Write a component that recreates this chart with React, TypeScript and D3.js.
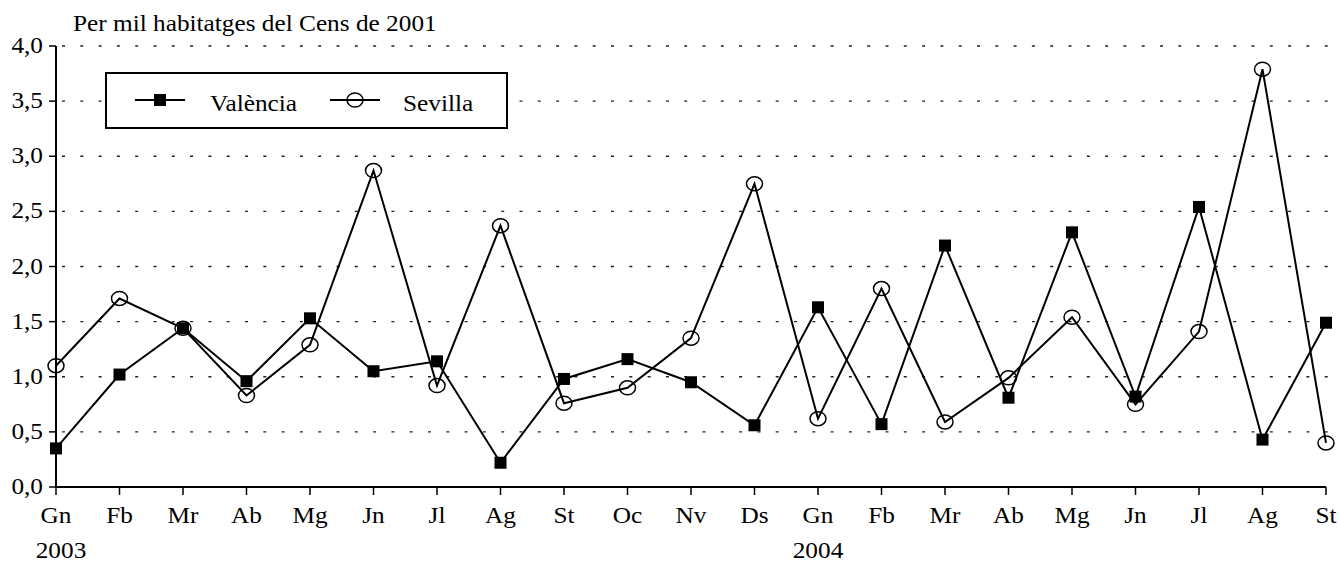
import React from "react";
import * as d3 from "d3";

const months = ["Gn","Fb","Mr","Ab","Mg","Jn","Jl","Ag","St","Oc","Nv","Ds","Gn","Fb","Mr","Ab","Mg","Jn","Jl","Ag","St"];
const years = [{ label: "2003", index: 0 }, { label: "2004", index: 12 }];
const valencia = [0.35,1.02,1.44,0.96,1.53,1.05,1.14,0.22,0.98,1.16,0.95,0.56,1.63,0.57,2.19,0.81,2.31,0.82,2.54,0.43,1.49];
const sevilla = [1.10,1.71,1.44,0.83,1.29,2.87,0.92,2.37,0.76,0.90,1.35,2.75,0.62,1.80,0.59,0.99,1.54,0.75,1.41,3.79,0.40];
const yTicks = [0,0.5,1,1.5,2,2.5,3,3.5,4];
const yTitle = "Per mil habitatges del Cens de 2001";
const seriesNames = ["València","Sevilla"];

const W = 1339, H = 563;
const FONT = "'Liberation Serif', 'Times New Roman', serif";
const FS = 23;
const SX = 1.1;

function T({ x, y, anchor = "start", children }: any) {
  return (
    <text transform={`translate(${x},${y}) scale(${SX},1)`} textAnchor={anchor}
      fontFamily={FONT} fontSize={FS} fill="#000">{children}</text>
  );
}

export default function App() {
  const x = d3.scaleLinear().domain([0, months.length - 1]).range([56, 1326]);
  const y = d3.scaleLinear().domain([0, 4]).range([487, 46]);
  const line = d3.line<number>().x((_, i) => x(i)).y(d => y(d));
  const fmt = (v: number) => v.toFixed(1).replace(".", ",");

  return (
    <svg width={W} height={H} style={{ position: "absolute", left: 0, top: 0, background: "#fff" }}>
      <rect width={W} height={H} fill="#fff" />
      {yTicks.filter(t => t > 0).map(t => (
        <line key={t} x1={62} x2={1330} y1={y(t)} y2={y(t)} stroke="#222" strokeWidth={1.3} strokeDasharray="3,15.3" />
      ))}
      <line x1={56} x2={56} y1={y(4)} y2={y(0) + 1} stroke="#000" strokeWidth={2} />
      {yTicks.map(t => (
        <g key={t}>
          <line x1={49} x2={56} y1={y(t)} y2={y(t)} stroke="#000" strokeWidth={1.5} />
          <T x={43} y={y(t) + 7} anchor="end">{fmt(t)}</T>
        </g>
      ))}
      <line x1={55} x2={x(months.length - 1)} y1={y(0)} y2={y(0)} stroke="#000" strokeWidth={2} />
      {months.map((m, i) => (
        <g key={i}>
          <line x1={x(i)} x2={x(i)} y1={y(0)} y2={y(0) + 8} stroke="#000" strokeWidth={1.5} />
          <T x={x(i)} y={523} anchor="middle">{m}</T>
        </g>
      ))}
      {years.map(yr => (
        <T key={yr.label} x={x(yr.index) + (yr.index === 0 ? 5 : 0)} y={558} anchor="middle">{yr.label}</T>
      ))}
      <T x={73} y={31}>{yTitle}</T>

      <path d={line(valencia) || ""} fill="none" stroke="#000" strokeWidth={2} />
      <path d={line(sevilla) || ""} fill="none" stroke="#000" strokeWidth={2} />
      {valencia.map((v, i) => (
        <rect key={i} x={x(i) - 6} y={y(v) - 6} width={12} height={12} fill="#000" />
      ))}
      {sevilla.map((v, i) => (
        <ellipse key={i} cx={x(i)} cy={y(v)} rx={8} ry={7} fill="none" stroke="#000" strokeWidth={1.5} />
      ))}

      <rect x={106} y={73} width={401} height={55} fill="#fff" stroke="#000" strokeWidth={2} />
      <line x1={135} x2={185} y1={100} y2={100} stroke="#000" strokeWidth={2} />
      <rect x={154} y={94} width={12} height={12} fill="#000" />
      <T x={210} y={111}>{seriesNames[0]}</T>
      <line x1={330} x2={380} y1={100} y2={100} stroke="#000" strokeWidth={2} />
      <ellipse cx={355} cy={100} rx={8} ry={7} fill="none" stroke="#000" strokeWidth={1.5} />
      <T x={403} y={111}>{seriesNames[1]}</T>
    </svg>
  );
}
